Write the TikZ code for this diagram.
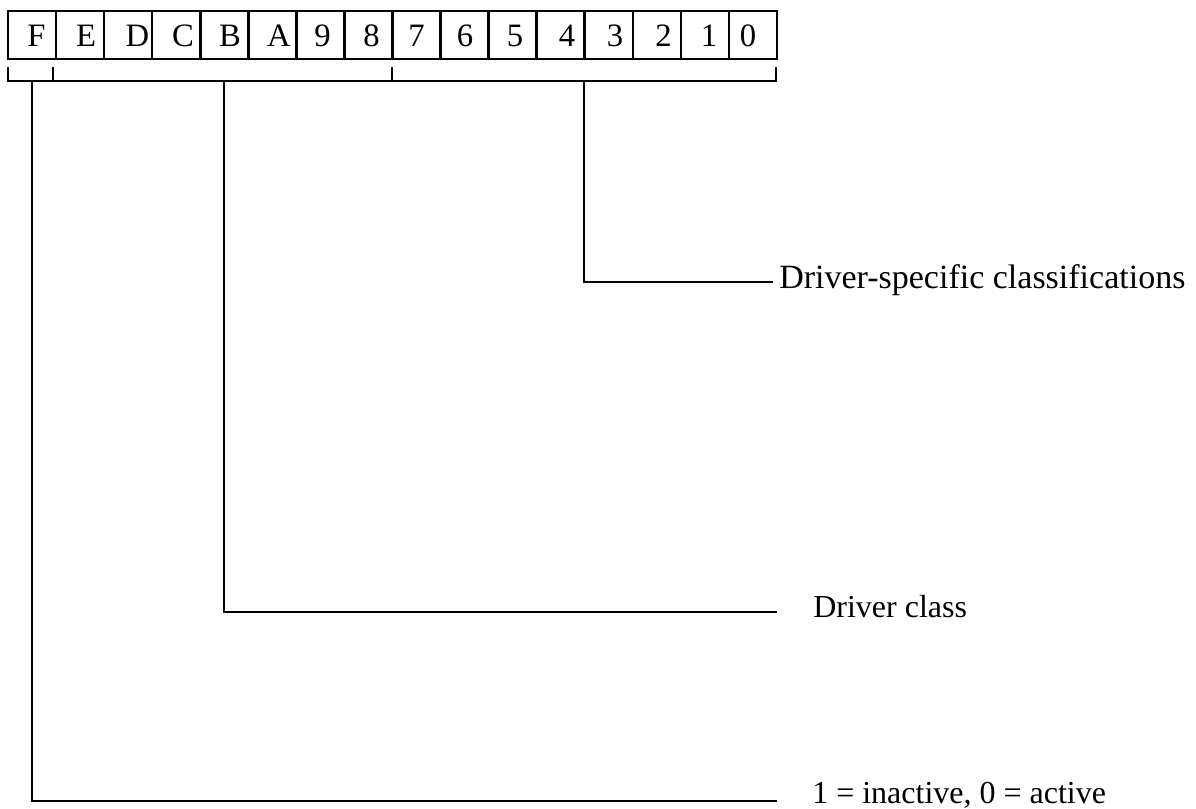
\documentclass[tikz,border=0pt]{standalone}
\usepackage{fontspec}
\setmainfont{Liberation Serif}
\usetikzlibrary{calc}
\begin{document}
\begin{tikzpicture}[x=0.75pt,y=-0.75pt,
  cell/.style={draw, rectangle, inner sep=0pt, minimum width=36.05pt,
    minimum height=36pt, line width=1.9pt},
  bit/.style={anchor=base, inner sep=0pt, font=\fontsize{24.5}{28}\selectfont},
  desc/.style={anchor=base west, inner sep=0pt, font=\fontsize{24}{28}\selectfont},
  wire/.style={line width=1.9pt}]
\useasboundingbox (0,0) rectangle (1196,808);

% the sixteen bit cells, F (left) to 0 (right)
\foreach \i/\lab/\lx in {0/F/36.5, 1/E/86, 2/D/137.5, 3/C/183, 4/B/230,
    5/A/279, 6/9/322.5, 7/8/371.5, 8/7/416.5, 9/6/465, 10/5/515,
    11/4/567, 12/3/615, 13/2/663.5, 14/1/709, 15/0/748} {
  \node[cell] (cell\i) at ({8+48.0625*(\i+0.5)},35) {};
  \node[bit] (bit\i) at (\lx,46) {\lab};
}

% field bracket under the register
\coordinate (brL) at (8,81);
\coordinate (brR) at (776,81);
\draw[wire] (8,67) -- (brL) -- (brR) -- (776,67);
\draw[wire] (53,67) -- (53,81);
\draw[wire] (392,67) -- (392,81);

% taps on the bracket for each field
\coordinate (tapLow) at (584,81);
\coordinate (tapClass) at (224,81);
\coordinate (tapFlag) at (32,81);

% field descriptions
\node[desc, font=\fontsize{25.5}{28}\selectfont] (descLow) at (779,288) {Driver-specific classifications};
\node[desc] (descClass) at (813,617) {Driver class};
\node[desc] (descFlag) at (812,803) {1 = inactive, 0 = active};

% leader lines
\draw[wire] (tapLow) |- ($(descLow.base west)+(-6,-6)$);
\draw[wire] (tapClass) |- ($(descClass.base west)+(-36,-5)$);
\draw[wire] (tapFlag) |- ($(descFlag.base west)+(-35,-2)$);
\end{tikzpicture}
\end{document}
